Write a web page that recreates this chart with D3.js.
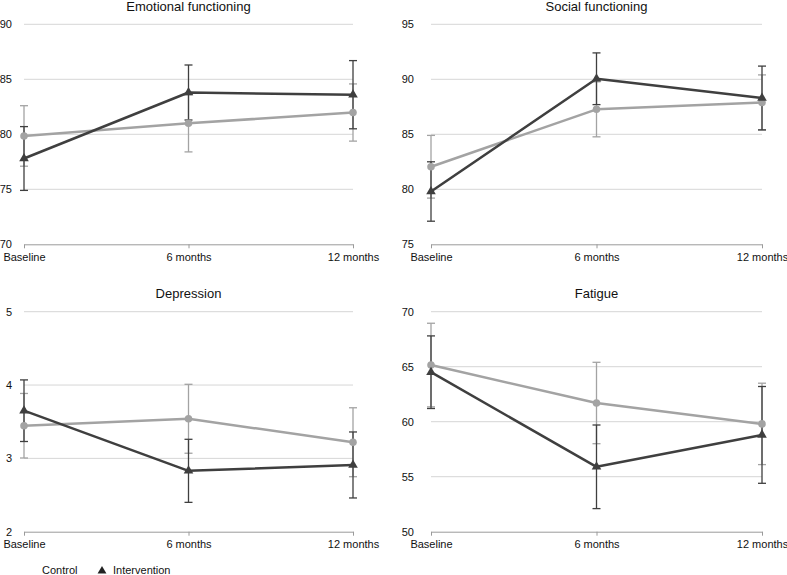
<!DOCTYPE html>
<html><head><meta charset="utf-8">
<script src="https://cdn.jsdelivr.net/npm/d3@7"></script>
<style>body{margin:0;background:#fff;} svg{display:block;font-family:"Liberation Sans",Arial,sans-serif;}</style>
</head><body>
<svg id="c" width="787" height="575"></svg>
<script>
const timepoints = ["Baseline", "6 months", "12 months"];
const panelTitles = ["Emotional functioning", "Social functioning", "Depression", "Fatigue"];
const yDomains = [[70, 90], [75, 95], [2, 5], [50, 70]];
const yTicks = [[70, 75, 80, 85, 90], [75, 80, 85, 90, 95], [2, 3, 4, 5], [50, 55, 60, 65, 70]];
// means and error half-widths
const controlMean = [[79.85, 81.0, 81.98], [82.05, 87.27, 87.9], [3.445, 3.54, 3.22], [65.15, 61.7, 59.8]];
const controlErr  = [[2.75, 2.6, 2.6], [2.85, 2.5, 2.5], [0.44, 0.47, 0.47], [3.8, 3.7, 3.7]];
const interMean   = [[77.8, 83.8, 83.6], [79.8, 90.05, 88.3], [3.65, 2.83, 2.91], [64.5, 55.9, 58.8]];
const interErr    = [[2.9, 2.5, 3.1], [2.7, 2.35, 2.9], [0.42, 0.43, 0.45], [3.3, 3.8, 4.4]];
const seriesNames = ["Control", "Intervention"];

const svg = d3.select("#c");
const colLeft = [24, 431], colRight = [353, 762];
const rowTop = [24.3, 311.7], rowBottom = [244.3, 531.7];
const labelX = [12, 414];
const colors = {ctrl: "#a3a3a3", int: "#3f3f3f"};
const textColor = "#111";

panelTitles.forEach((title, i) => {
  const col = i % 2, row = Math.floor(i / 2);
  const x = d3.scalePoint().domain(timepoints).range([colLeft[col], colRight[col]]);
  const y = d3.scaleLinear().domain(yDomains[i]).range([rowBottom[row], rowTop[row]]);
  const g = svg.append("g");
  // gridlines
  g.selectAll(".grid").data(yTicks[i].filter(t => t !== yDomains[i][0])).join("line")
    .attr("x1", colLeft[col]).attr("x2", colRight[col])
    .attr("y1", d => y(d)).attr("y2", d => y(d))
    .attr("stroke", "#d6d6d6").attr("stroke-width", 1);
  // y labels
  g.selectAll(".yl").data(yTicks[i]).join("text")
    .attr("x", labelX[col]).attr("y", d => y(d)).attr("dy", "0.35em")
    .attr("text-anchor", "end").attr("font-size", 11).attr("fill", textColor)
    .text(d => d);
  // x axis
  const ax = g.append("g").attr("transform", `translate(0,${rowBottom[row]})`)
    .call(d3.axisBottom(x).tickSize(4).tickSizeOuter(0).tickPadding(5));
  ax.select(".domain").attr("stroke", "#9a9a9a");
  ax.selectAll(".tick line").attr("stroke", "#9a9a9a");
  ax.selectAll(".tick text").attr("font-size", 11).attr("fill", textColor)
    .attr("font-family", "Liberation Sans, Arial, sans-serif");
  // title
  g.append("text").attr("x", x("6 months")).attr("y", rowTop[row] - 13.5)
    .attr("text-anchor", "middle").attr("font-size", 13).attr("fill", textColor).text(title);

  const series = [
    {mean: controlMean[i], err: controlErr[i], color: colors.ctrl, key: "c"},
    {mean: interMean[i], err: interErr[i], color: colors.int, key: "t"}
  ];
  series.forEach(s => {
    const pts = timepoints.map((t, j) => ({t, m: s.mean[j], e: s.err[j]}));
    const eb = g.append("g");
    eb.selectAll(".v").data(pts).join("line")
      .attr("x1", d => x(d.t)).attr("x2", d => x(d.t))
      .attr("y1", d => y(d.m - d.e)).attr("y2", d => y(d.m + d.e))
      .attr("stroke", s.color).attr("stroke-width", 1.3);
    [-1, 1].forEach(sg => {
      eb.selectAll(".cap" + sg).data(pts).join("line")
        .attr("x1", d => x(d.t) - 4).attr("x2", d => x(d.t) + 4)
        .attr("y1", d => y(d.m + sg * d.e)).attr("y2", d => y(d.m + sg * d.e))
        .attr("stroke", s.color).attr("stroke-width", 1.3);
    });
  });
  series.forEach(s => {
    const pts = timepoints.map((t, j) => ({t, m: s.mean[j]}));
    g.append("path").datum(pts)
      .attr("d", d3.line().x(d => x(d.t)).y(d => y(d.m)))
      .attr("fill", "none").attr("stroke", s.color).attr("stroke-width", 2.5)
      .attr("stroke-linejoin", "round");
    const sym = s.key === "c" ? d3.symbol(d3.symbolCircle, 45) : d3.symbol(d3.symbolTriangle, 40);
    g.selectAll(".m" + s.key).data(pts).join("path")
      .attr("transform", d => `translate(${x(d.t)},${y(d.m)})`)
      .attr("d", sym).attr("fill", s.color);
  });
});

// legend
const lg = svg.append("g");
lg.append("text").attr("x", 42).attr("y", 574).attr("font-size", 11).attr("fill", textColor).text(seriesNames[0]);
lg.append("path").attr("transform", "translate(102,571)").attr("d", d3.symbol(d3.symbolTriangle, 34)).attr("fill", "#222");
lg.append("text").attr("x", 113).attr("y", 574).attr("font-size", 11).attr("fill", textColor).text(seriesNames[1]);
</script>
</body></html>
